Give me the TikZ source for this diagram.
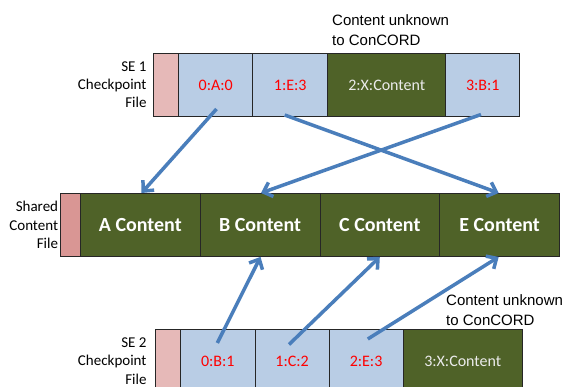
\documentclass[tikz,border=0pt]{standalone}
\usepackage{fontspec}
\setmainfont{Carlito}
\newfontfamily\arialfont{Liberation Sans}
\usetikzlibrary{arrows.meta}
\definecolor{cellblue}{HTML}{B9CDE5}
\definecolor{cellgreen}{HTML}{4F6228}
\definecolor{hdrpink}{HTML}{E6B9B8}
\definecolor{hdrrose}{HTML}{D99694}
\definecolor{linkblue}{HTML}{4A7EBB}
\tikzset{
  cell/.style={draw=black!85, line width=0.9pt, minimum height=63pt, inner sep=0pt, anchor=north west},
  idx/.style={cell, fill=cellblue, text=red, font=\fontsize{16}{18}\selectfont},
  opaque/.style={cell, fill=cellgreen, text=white!92!black, font=\fontsize{16}{18}\selectfont},
  shared/.style={cell, fill=cellgreen, text=white, font=\bfseries\fontsize{20}{22}\selectfont},
  hdr/.style={cell, fill=hdrpink},
  side/.style={align=right, anchor=east, inner sep=0pt, font=\fontsize{15}{18.3}\selectfont},
  note/.style={align=left, anchor=west, inner sep=0pt, font=\arialfont\fontsize{15}{20}\selectfont},
  link/.style={draw=linkblue, line width=3.5pt, -{Straight Barb[length=8pt, width=15pt, line width=3.5pt]}}
}
\begin{document}
\begin{tikzpicture}[x=1pt, y=-1pt]
\clip (0,0) rectangle (569,387);
\fill[white] (0,0) rectangle (569,387);

% SE 1 checkpoint file
\node[hdr, minimum width=25pt] (h1) at (153.3,53) {};
\node[idx, minimum width=74pt] (t0) at (178.3,53) {0:A:0};
\node[idx, minimum width=75pt] (t1) at (252.3,53) {1:E:3};
\node[opaque, minimum width=118pt] (t2) at (327.3,53) {2:X:Content};
\node[idx, minimum width=74pt] (t3) at (445.3,53) {3:B:1};
\node[side] (s1) at (146.7,84.5) {SE 1\\Checkpoint\\File};
\node[note] (n1) at (332,30) {Content unknown\\to ConCORD};

% Shared content file
\node[cell, fill=hdrrose, minimum width=20pt] (hm) at (60,193) {};
\node[shared, minimum width=119.75pt] (ca) at (80,193) {A Content};
\node[shared, minimum width=119.75pt] (cb) at (199.75,193) {B Content};
\node[shared, minimum width=119.75pt] (cc) at (319.5,193) {C Content};
\node[shared, minimum width=119.75pt] (ce) at (439.25,193) {E Content};
\node[side] (sm) at (58.3,225) {Shared\\Content\\File};

% SE 2 checkpoint file
\node[hdr, minimum width=25pt] (h2) at (155,329) {};
\node[idx, minimum width=74.6pt] (b0) at (180,329) {0:B:1};
\node[idx, minimum width=74pt] (b1) at (254.6,329) {1:C:2};
\node[idx, minimum width=74pt] (b2) at (328.6,329) {2:E:3};
\node[opaque, minimum width=119.4pt] (b3) at (402.6,329) {3:X:Content};
\node[side] (s2) at (146.7,361) {SE 2\\Checkpoint\\File};
\node[note] (n2) at (446,310) {Content unknown\\to ConCORD};

% Index entries pointing into the shared file
\coordinate (t0s) at (216.5,109);
\coordinate (t1s) at (284.7,115);
\coordinate (t3s) at (481,114.5);
\coordinate (b0s) at (217.3,343);
\coordinate (b1s) at (289,344.5);
\coordinate (b2s) at (367.8,339);

\draw[link] (t0s) -- (ca.north -| 141.5,0);
\draw[link] (t1s) -- (ce.north -| 498.7,0);
\draw[link] (t3s) -- (cb.north -| 261,0);
\draw[link] (b0s) -- (cb.south -| 260.5,0);
\draw[link] (b1s) -- (cc.south -| 379.8,0);
\draw[link] (b2s) -- (ce.south -| 498.7,0);
\end{tikzpicture}
\end{document}
